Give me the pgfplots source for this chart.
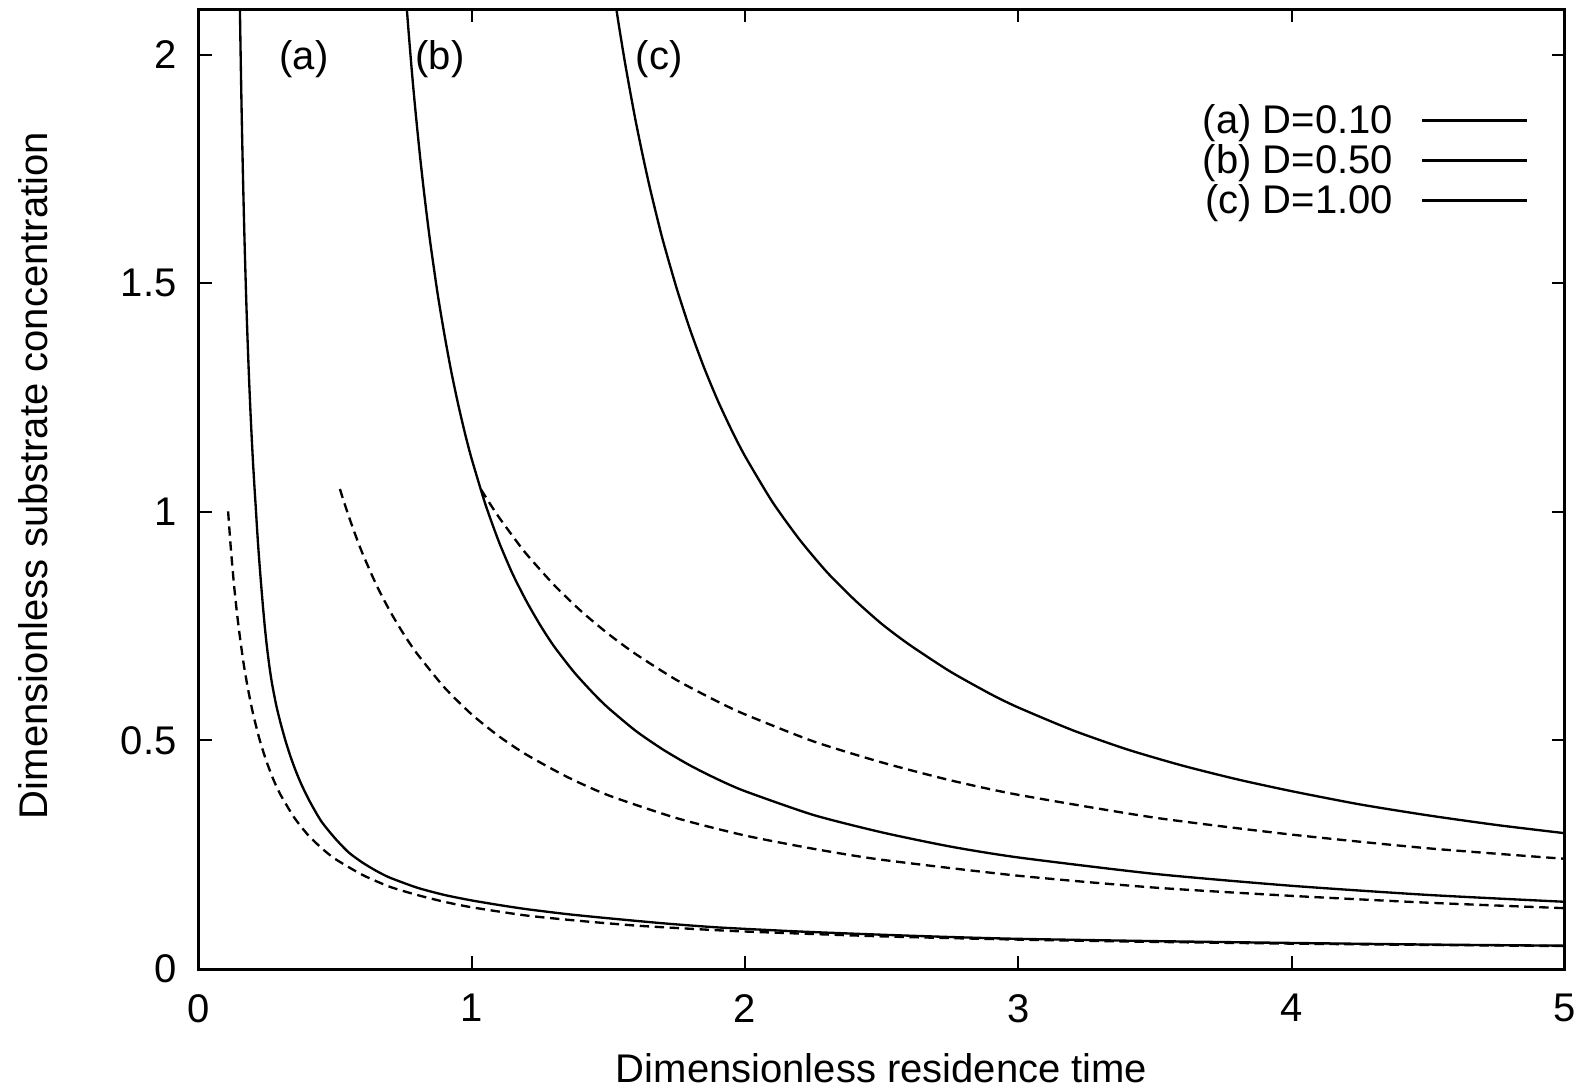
\documentclass[border=0pt]{standalone}
\usepackage{fontspec}
\setmainfont{Liberation Sans}
\usepackage{pgfplots}
\pgfplotsset{compat=1.18}

\begin{document}
\begin{tikzpicture}[font=\fontsize{12}{14}\selectfont]
\useasboundingbox (-59.5pt,-36pt) rectangle (417.5pt,290.7pt);
\begin{axis}[
  name=ax,
  scale only axis, width=410pt, height=288pt,
  at={(0,0)}, anchor=south west,
  xmin=0, xmax=5, ymin=0, ymax=2.1,
  xtick={0,1,2,3,4,5}, ytick={0,0.5,1,1.5,2},
  tick align=inside, major tick length=4pt,
  every tick/.style={black, line width=0.6pt},
  axis line style={line width=0.9pt},
  /pgf/number format/assume math mode=true,
  xticklabel style={yshift=-4pt},
  yticklabel style={xshift=-3pt},
  xlabel={Dimensionless residence time},
  ylabel={Dimensionless substrate concentration},
  xlabel style={at={(axis description cs:0.5,0)}, anchor=base, yshift=-34pt},
  ylabel style={at={(axis description cs:-0.1206,0.514)}, rotate=0, anchor=center},
  legend cell align=right, legend plot pos=right,
  legend image code/.code={\draw[#1] (0pt,0.95pt) -- (31.5pt,0.95pt);},
  legend style={at={(0.9737,0.902)}, anchor=north east, draw=none, fill=none,
                inner sep=0pt, column sep=8.4pt, row sep=0pt,
                nodes={inner sep=0pt, text height=9pt, text depth=3pt}},
  curve/.style={black, line width=0.7pt, no markers, smooth, tension=0.4},
  approx/.style={curve, dash pattern=on 2.8pt off 1.7pt, forget plot},
]
% solid curves
\addplot[curve] coordinates {
  (0.152,2.106) (0.154,2.029) (0.156,1.958) (0.158,1.891) (0.160,1.829)
  (0.1625,1.757) (0.165,1.691) (0.1675,1.629) (0.170,1.572) (0.175,1.469)
  (0.180,1.379) (0.185,1.300) (0.190,1.229) (0.195,1.166) (0.200,1.109)
  (0.205,1.058) (0.210,1.011) (0.215,0.962) (0.220,0.917) (0.2275,0.858)
  (0.235,0.803) (0.2425,0.753) (0.250,0.710) (0.26,0.662) (0.27,0.623)
  (0.285,0.577) (0.30,0.540) (0.32,0.497) (0.34,0.460) (0.36,0.428)
  (0.38,0.400) (0.41,0.364) (0.45,0.323) (0.50,0.286) (0.55,0.255)
  (0.60,0.233) (0.65,0.215) (0.70,0.200) (0.80,0.178) (0.90,0.162)
  (1.0,0.150) (1.1,0.140) (1.2,0.131) (1.35,0.120) (1.5,0.111)
  (1.7,0.100) (1.9,0.091) (2.2,0.082) (2.5,0.075) (2.75,0.070)
  (3.0,0.066) (3.5,0.061) (4.0,0.057) (4.5,0.0535) (5.0,0.051)
};
\addlegendentry{(a) D=0.10}
\addplot[curve] coordinates {
  (0.762,2.106) (0.77,2.045) (0.78,1.972) (0.79,1.905) (0.80,1.843)
  (0.8125,1.770) (0.825,1.703) (0.8375,1.641) (0.85,1.583) (0.875,1.479)
  (0.9,1.389) (0.925,1.308) (0.95,1.237) (0.975,1.173) (1.0,1.116)
  (1.05,1.017) (1.1,0.934) (1.15,0.864) (1.2,0.805) (1.25,0.753)
  (1.3,0.707) (1.375,0.649) (1.45,0.600) (1.5,0.571) (1.6,0.521)
  (1.7,0.480) (1.8,0.445) (1.9,0.415) (2.0,0.389) (2.25,0.337)
  (2.5,0.299) (2.75,0.268) (3.0,0.244) (3.5,0.208) (4.0,0.182)
  (4.5,0.162) (5.0,0.147)
};
\addlegendentry{(b) D=0.50}
\addplot[curve] coordinates {
  (1.528,2.105) (1.54,2.059) (1.56,1.986) (1.58,1.919) (1.60,1.855)
  (1.625,1.782) (1.65,1.714) (1.675,1.652) (1.70,1.593) (1.75,1.489)
  (1.80,1.397) (1.85,1.316) (1.90,1.244) (1.95,1.180) (2.0,1.122)
  (2.1,1.022) (2.2,0.939) (2.3,0.868) (2.4,0.808) (2.5,0.755)
  (2.6,0.710) (2.75,0.651) (2.9,0.601) (3.0,0.572) (3.2,0.522)
  (3.4,0.480) (3.6,0.445) (3.8,0.415) (4.0,0.389) (4.25,0.360)
  (4.5,0.336) (4.75,0.315) (5.0,0.297)
};
\addlegendentry{(c) D=1.00}
% dashed curves
\addplot[approx] coordinates {
  (0.109,1.001) (0.115,0.951) (0.12,0.912) (0.13,0.844) (0.14,0.786)
  (0.15,0.736) (0.165,0.671) (0.18,0.618) (0.2,0.559) (0.225,0.500)
  (0.25,0.453) (0.275,0.414) (0.3,0.382) (0.35,0.332) (0.4,0.294)
  (0.45,0.265) (0.5,0.241) (0.6,0.206) (0.7,0.180) (0.8,0.162)
  (0.9,0.147) (1.0,0.135) (1.2,0.117) (1.4,0.105) (1.6,0.095)
  (1.8,0.088) (2.0,0.082) (2.5,0.0714) (3.0,0.0643) (3.5,0.0593)
  (4.0,0.0555) (4.5,0.0526) (5.0,0.0502)
};
\addplot[approx] coordinates {
  (0.518,1.050) (0.53,1.027) (0.55,0.991) (0.575,0.949) (0.6,0.910)
  (0.65,0.842) (0.7,0.784) (0.75,0.734) (0.8,0.690) (0.9,0.616)
  (1.0,0.557) (1.1,0.509) (1.2,0.469) (1.35,0.420) (1.5,0.380)
  (1.75,0.330) (2.0,0.292) (2.25,0.263) (2.5,0.239) (3.0,0.204)
  (3.5,0.178) (4.0,0.160) (4.5,0.145) (5.0,0.133)
};
\addplot[approx] coordinates {
  (1.034,1.049) (1.07,1.015) (1.1,0.988) (1.15,0.947) (1.2,0.908)
  (1.3,0.841) (1.4,0.783) (1.5,0.733) (1.6,0.689) (1.75,0.632)
  (1.9,0.585) (2.0,0.557) (2.25,0.498) (2.5,0.452) (2.75,0.413)
  (3.0,0.381) (3.5,0.331) (4.0,0.294) (4.5,0.264) (5.0,0.241)
};
\node at (axis cs:0.387,1.99) {(a)};
\node at (axis cs:0.884,1.99) {(b)};
\node at (axis cs:1.686,1.99) {(c)};
\end{axis}
\end{tikzpicture}
\end{document}
